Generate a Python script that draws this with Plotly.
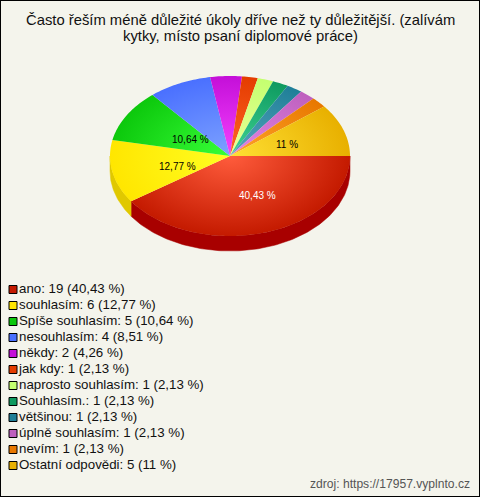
import math
import plotly.graph_objects as go

categories = ["ano", "souhlasím", "Spíše souhlasím", "nesouhlasím", "někdy", "jak kdy",
              "naprosto souhlasím", "Souhlasím.", "většinou", "úplně souhlasím", "nevím",
              "Ostatní odpovědi"]
counts = [19, 6, 5, 4, 2, 1, 1, 1, 1, 1, 1, 5]
percent_labels = ["40,43 %", "12,77 %", "10,64 %", "8,51 %", "4,26 %", "2,13 %", "2,13 %",
                  "2,13 %", "2,13 %", "2,13 %", "2,13 %", "11 %"]
# colours: rim of the top face, centre of the top face, side wall
rim_colors = ["#C41A00", "#FFE600", "#0CC80C", "#4A70FF", "#C40FD8", "#E43C00",
              "#C4FF70", "#0E9A60", "#1F7F98", "#BE60BE", "#E87800", "#E8B000"]
centre_colors = ["#FF5C3C", "#FFFF22", "#38FF38", "#7DA2FF", "#F442FF", "#FF6426",
                 "#EEFF98", "#40D494", "#58A6BC", "#E486E4", "#FFA428", "#FFE034"]
side_colors = ["#A80000", "#E0C800", "#0AA80A", "#3A58D0", "#A00CB0", "#C03000",
               "#A0D060", "#0A8050", "#186878", "#A050A0", "#C06000", "#C89800"]
inner_labels = {0: ("#FFFFFF", 10, -1), 1: ("#000000", 6, -3), 2: ("#000000", 12, -4), 11: ("#000000", 0, -2)}

W, H = 480, 497
CX, CY, RX, RY = 230, 156, 120, 80   # pie centre and radii in pixels
DEPTH = 15 / RY                      # wall height in y-axis units
STEP = 1.0
total = sum(counts)

def arc(a0, a1, dy=0.0):
    n = max(2, int(abs(a1 - a0) / STEP) + 1)
    pts = [a0 + (a1 - a0) * i / (n - 1) for i in range(n)]
    return ([math.cos(math.radians(a)) for a in pts],
            [-math.sin(math.radians(a)) - dy for a in pts])

fig = go.Figure()

# slice angles, clockwise from east
angles = [0.0]
for c in counts:
    angles.append(angles[-1] + 360.0 * c / total)

# side wall (only the front half shows)
for i, c in enumerate(counts):
    a0, a1 = angles[i], min(angles[i + 1], 180.0)
    if a0 >= 180.0:
        continue
    xt, yt = arc(a0, a1)
    xb, yb = arc(a1, a0, DEPTH)
    fig.add_trace(go.Scatter(x=xt + xb + [xt[0]], y=yt + yb + [yt[0]], mode="lines", fill="toself",
                             fillcolor=side_colors[i], line=dict(width=0.5, color=side_colors[i]),
                             hoverinfo="skip", showlegend=False))

# top faces, with zero-area spikes so each fill's box is the whole ellipse and the
# radial gradient is centred on the pie centre
for i, c in enumerate(counts):
    xa, ya = arc(angles[i], angles[i + 1])
    xs = [0, -1, 0, 1, 0] + xa + [0]
    ys = [0, -1, 0, 1, 0] + ya + [0]
    fig.add_trace(go.Scatter(x=xs, y=ys, mode="none", fill="toself",
                             line=dict(simplify=False),
                             fillgradient=dict(type="radial",
                                               colorscale=[[0, centre_colors[i]], [1, rim_colors[i]]]),
                             hoverinfo="skip", showlegend=False))

# legend built on a second pair of axes so that the row pitch can match
rows = list(range(len(categories)))
legend_text = [f"{n}: {c} ({p})" for n, c, p in zip(categories, counts, percent_labels)]
fig.add_trace(go.Scatter(x=[13] * len(rows), y=rows, xaxis="x2", yaxis="y2", mode="markers+text",
                         marker=dict(symbol="square", size=8, color=rim_colors,
                                     line=dict(color="#000000", width=1)),
                         text=legend_text, textposition="middle right",
                         textfont=dict(family="Liberation Sans", size=13.3, color="#111111"),
                         hoverinfo="skip", showlegend=False))

annotations = []
for i, (col, dx, dy) in inner_labels.items():
    mid = math.radians((angles[i] + angles[i + 1]) / 2)
    annotations.append(dict(x=0.5 * math.cos(mid), y=-0.5 * math.sin(mid), xref="x", yref="y",
                            text=percent_labels[i], showarrow=False, xshift=dx, yshift=dy,
                            font=dict(family="Liberation Sans", size=10, color=col)))

title_lines = ["Často řeším méně důležité úkoly dříve než ty důležitější. (zalívám",
               "kytky, místo psaní diplomové práce)"]
for line, py in zip(title_lines, (20, 36)):
    annotations.append(dict(x=0.5, y=1 - py / H, xref="paper", yref="paper", text=line, showarrow=False,
                            xanchor="center", yanchor="middle",
                            font=dict(family="Liberation Sans", size=14.8, color="#111111")))
annotations.append(dict(x=1 - 8 / W, y=1 - 484 / H, xref="paper", yref="paper", showarrow=False,
                        text="zdroj: https://17957.vyplnto.cz", xanchor="right", yanchor="middle",
                        font=dict(family="Liberation Sans", size=12.1, color="#555555")))

hidden = dict(visible=False, showgrid=False, zeroline=False, fixedrange=True)
fig.update_layout(
    width=W, height=H, margin=dict(l=0, r=0, t=0, b=0), autosize=False,
    paper_bgcolor="#F4F4EC", plot_bgcolor="rgba(0,0,0,0)", showlegend=False,
    xaxis=dict(range=[-CX / RX, (W - CX) / RX], **hidden),
    yaxis=dict(range=[-(H - CY) / RY, CY / RY], **hidden),
    xaxis2=dict(range=[0, W], overlaying="x", anchor="y2", **hidden),
    yaxis2=dict(range=[(H - 289.5) / 16, -289.5 / 16], overlaying="y", anchor="x2", **hidden),
    annotations=annotations,
    shapes=[dict(type="rect", xref="paper", yref="paper", x0=0, y0=0, x1=1, y1=1,
                 line=dict(color="#000000", width=2), fillcolor="rgba(0,0,0,0)")],
)
fig.write_html("out.html", config={"displayModeBar": False},
               post_script="document.body.style.margin='0';")
